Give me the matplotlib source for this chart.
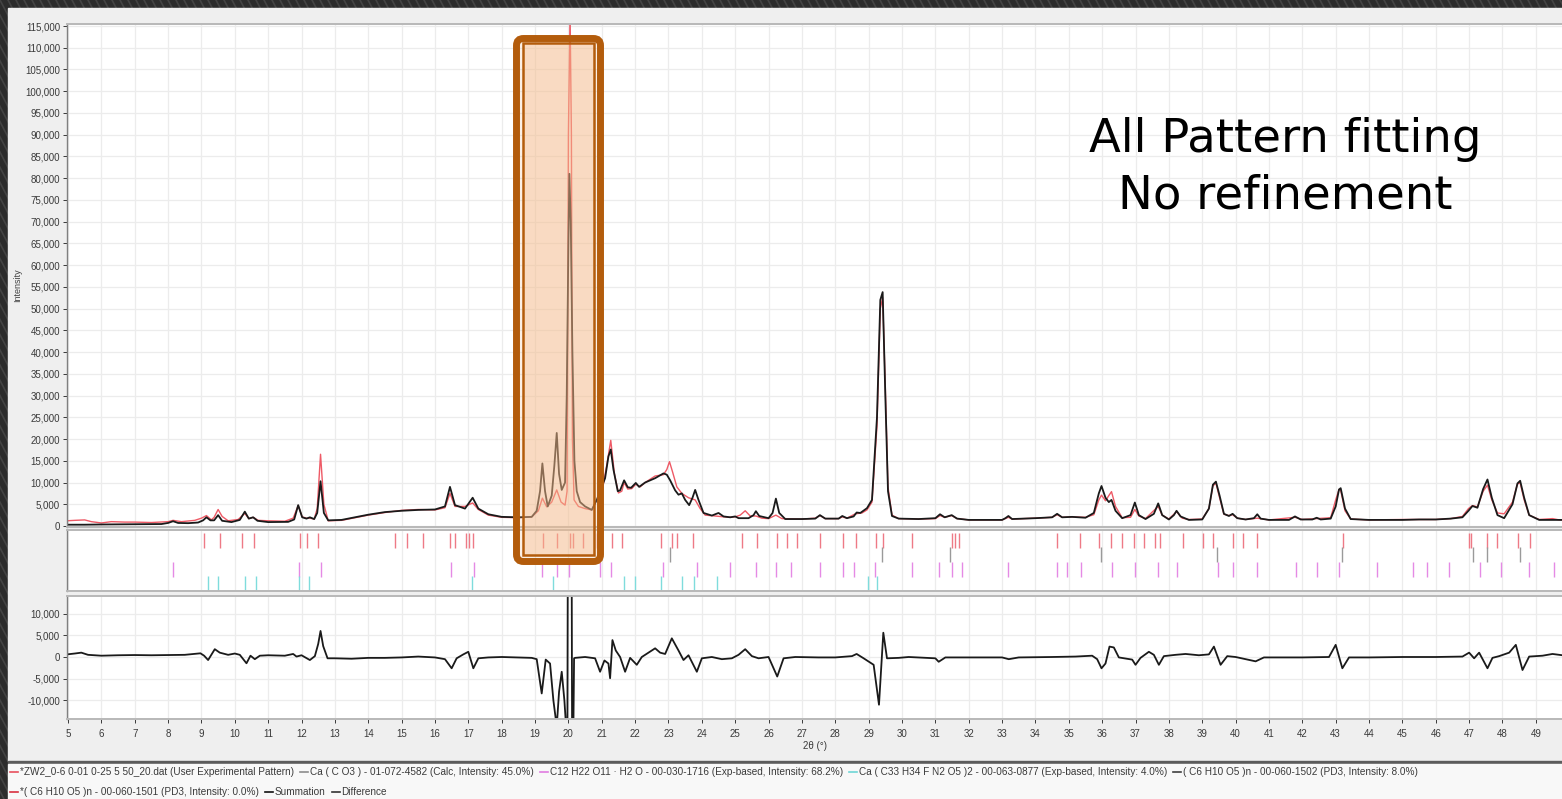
import matplotlib
matplotlib.use("Agg")
import matplotlib.pyplot as plt
from matplotlib.patches import FancyBboxPatch, Rectangle
from matplotlib.ticker import FuncFormatter, MultipleLocator

W, H = 1562, 799

# observed pattern (2theta, intensity)
OBS = [
    (4.97, 1200), (5.2, 1300), (5.5, 1400), (5.7, 1000), (6.0, 700), (6.3, 1000), (6.7, 900),
    (7.0, 900), (7.5, 800), (8.0, 1000), (8.15, 1300), (8.4, 1000), (8.8, 1300), (9.0, 1800),
    (9.15, 2400), (9.3, 1400), (9.38, 2000), (9.5, 3800), (9.62, 2200), (9.8, 1200), (10.1, 1500),
    (10.3, 2900), (10.42, 1700), (10.55, 2000), (10.7, 1300), (11.0, 1200), (11.5, 1100),
    (11.75, 1800), (11.9, 4700), (12.02, 2100), (12.15, 1800), (12.25, 1800), (12.38, 1600),
    (12.47, 4000), (12.57, 16500), (12.67, 5000), (12.8, 1200), (13.2, 1300), (13.6, 1900),
    (14.0, 2500), (14.5, 3100), (15.0, 3600), (15.5, 3800), (16.0, 3700), (16.3, 4200),
    (16.45, 7500), (16.6, 4500), (16.9, 4500), (17.13, 5300), (17.3, 3800), (17.6, 2500),
    (18.0, 2000), (18.5, 1900), (18.9, 2100), (19.1, 3500), (19.22, 6400), (19.35, 4400),
    (19.5, 5500), (19.65, 8300), (19.78, 5500), (19.9, 4800), (19.96, 8000), (20.0, 90000),
    (20.05, 118000), (20.09, 90000), (20.12, 20000), (20.17, 6000), (20.3, 4500), (20.5, 4000),
    (20.7, 3700), (20.85, 6000), (21.0, 7500), (21.15, 14000), (21.27, 19700), (21.38, 12000),
    (21.5, 7600), (21.6, 8000), (21.67, 10000), (21.78, 8500), (21.9, 8600), (22.02, 9600),
    (22.15, 9000), (22.3, 10000), (22.6, 11500), (22.85, 11800), (22.95, 13000), (23.03, 14800),
    (23.12, 12500), (23.25, 9000), (23.4, 7500), (23.6, 6500), (23.8, 6000), (23.95, 4000),
    (24.1, 2500), (24.4, 2300), (24.8, 2000), (25.0, 2100), (25.15, 2500), (25.3, 3500),
    (25.45, 2300), (25.62, 2300), (25.8, 1800), (26.0, 1700), (26.22, 2500), (26.4, 1700),
    (27.0, 1600), (27.4, 1800), (27.54, 2400), (27.7, 1700), (28.1, 1700), (28.21, 2100),
    (28.35, 1800), (28.6, 2800), (28.8, 3000), (28.95, 3700), (29.1, 5500), (29.25, 23000),
    (29.35, 50000), (29.42, 52500), (29.5, 32000), (29.58, 9000), (29.7, 2500), (29.9, 1700),
    (30.5, 1600), (31.0, 1700), (31.14, 2400), (31.28, 2000), (31.49, 2400), (31.65, 1700),
    (32.0, 1400), (33.0, 1400), (33.19, 2000), (33.3, 1600), (34.0, 1800), (34.5, 2000),
    (34.65, 2600), (34.8, 2000), (35.1, 2100), (35.5, 2000), (35.75, 2600), (35.9, 6000),
    (35.98, 7100), (36.1, 5800), (36.2, 7000), (36.28, 7900), (36.4, 4500), (36.6, 1900),
    (36.85, 2000), (36.98, 3800), (37.1, 2300), (37.3, 1700), (37.5, 3200), (37.68, 4500),
    (37.8, 2500), (38.0, 1600), (38.23, 3300), (38.4, 1800), (38.6, 1500), (39.0, 1600),
    (39.2, 4000), (39.32, 9200), (39.41, 9900), (39.52, 6500), (39.65, 2700), (39.8, 2400),
    (39.91, 2600), (40.05, 1800), (40.3, 1500), (40.65, 1800), (41.0, 1400), (41.78, 2000),
    (42.0, 1500), (42.43, 1700), (42.85, 1900), (43.0, 6000), (43.1, 8400), (43.15, 8200),
    (43.28, 3500), (43.45, 1600), (44.0, 1400), (45.0, 1500), (46.0, 1500), (46.45, 1700),
    (46.8, 2200), (46.98, 4000), (47.1, 4700), (47.25, 4400), (47.42, 8000), (47.55, 9400),
    (47.68, 6000), (47.85, 3000), (48.05, 2800), (48.3, 5500), (48.45, 9700), (48.53, 9900),
    (48.65, 6000), (48.8, 2500), (49.1, 1500), (49.5, 1700), (49.7, 1400), (50.0, 1500),
]

# summation (calculated) pattern
CALC = [
    (4.97, 300), (5.5, 300), (6.0, 350), (7.0, 400), (7.8, 450), (8.0, 700), (8.15, 1100),
    (8.3, 700), (8.6, 650), (8.9, 800), (9.05, 1300), (9.15, 2000), (9.27, 1300), (9.38, 1300),
    (9.5, 2500), (9.62, 1200), (9.9, 900), (10.15, 1400), (10.3, 3300), (10.42, 1700),
    (10.55, 2000), (10.68, 1200), (11.0, 900), (11.6, 950), (11.78, 1500), (11.9, 4800),
    (12.02, 2000), (12.15, 1700), (12.25, 2000), (12.38, 1600), (12.47, 3000), (12.57, 10300),
    (12.67, 3000), (12.8, 1300), (13.2, 1400), (13.6, 2000), (14.0, 2600), (14.5, 3200),
    (15.0, 3500), (15.5, 3700), (16.0, 3800), (16.3, 4500), (16.45, 9000), (16.6, 4800),
    (16.9, 4000), (17.13, 6500), (17.3, 4000), (17.6, 2700), (18.0, 2100), (18.5, 2000),
    (18.9, 2100), (19.05, 3500), (19.15, 8000), (19.22, 14400), (19.3, 8000), (19.38, 4500),
    (19.5, 7000), (19.58, 14000), (19.65, 21400), (19.72, 12000), (19.8, 8300), (19.9, 10000),
    (19.95, 30000), (20.0, 65000), (20.03, 81000), (20.07, 70000), (20.12, 40000),
    (20.18, 15000), (20.25, 8000), (20.35, 5500), (20.5, 4500), (20.7, 3700), (20.85, 6000),
    (20.95, 8000), (21.1, 11000), (21.2, 16000), (21.27, 17600), (21.35, 13000), (21.48, 8000),
    (21.55, 8200), (21.67, 10500), (21.78, 8900), (21.88, 8800), (22.02, 9900), (22.12, 9000),
    (22.3, 10000), (22.6, 11000), (22.85, 12100), (22.95, 11800), (23.05, 10500), (23.2, 8200),
    (23.3, 7200), (23.4, 7500), (23.5, 6000), (23.62, 4800), (23.72, 6500), (23.8, 8300),
    (23.9, 6000), (24.05, 3000), (24.3, 2400), (24.5, 3000), (24.65, 2200), (24.85, 2000),
    (25.0, 2200), (25.1, 1800), (25.4, 1800), (25.55, 2500), (25.62, 3400), (25.72, 2300),
    (26.0, 1800), (26.12, 3000), (26.22, 6300), (26.32, 3000), (26.5, 1600), (27.0, 1600),
    (27.4, 1700), (27.54, 2500), (27.7, 1700), (28.1, 1700), (28.21, 2300), (28.35, 1800),
    (28.55, 2200), (28.64, 3100), (28.75, 3000), (28.95, 4100), (29.1, 6000), (29.25, 25000),
    (29.35, 52000), (29.42, 53800), (29.5, 30000), (29.58, 8000), (29.7, 2300), (29.9, 1700),
    (30.5, 1600), (31.0, 1800), (31.14, 2700), (31.28, 2000), (31.49, 2500), (31.65, 1700),
    (32.0, 1400), (33.0, 1400), (33.1, 1800), (33.19, 2300), (33.3, 1600), (34.0, 1800),
    (34.5, 2000), (34.65, 2800), (34.8, 2000), (35.1, 2100), (35.5, 1900), (35.75, 3000),
    (35.9, 7500), (35.98, 9200), (36.1, 6500), (36.2, 5500), (36.28, 6000), (36.4, 3500),
    (36.6, 1800), (36.85, 2500), (36.98, 5400), (37.1, 2500), (37.3, 1600), (37.55, 2800),
    (37.68, 5200), (37.8, 2500), (38.0, 1500), (38.15, 2500), (38.23, 3500), (38.35, 2200),
    (38.6, 1400), (39.0, 1500), (39.2, 4000), (39.32, 9500), (39.41, 10200), (39.52, 7000),
    (39.65, 2800), (39.8, 2300), (39.91, 2800), (40.05, 1800), (40.3, 1500), (40.55, 1800),
    (40.65, 2700), (40.75, 1700), (41.0, 1400), (41.6, 1400), (41.78, 2200), (41.95, 1500),
    (42.3, 1500), (42.43, 1900), (42.55, 1500), (42.85, 1700), (43.0, 4500), (43.1, 8400),
    (43.15, 8700), (43.28, 4000), (43.45, 1600), (44.0, 1400), (45.0, 1400), (45.5, 1500),
    (46.0, 1500), (46.45, 1700), (46.8, 2000), (46.98, 3500), (47.1, 4600), (47.25, 4200),
    (47.42, 8500), (47.55, 10700), (47.68, 6500), (47.85, 2500), (48.05, 1800), (48.3, 5000),
    (48.45, 9800), (48.53, 10400), (48.65, 6500), (48.8, 2500), (49.1, 1400), (49.6, 1400),
    (50.0, 1400),
]

# difference curve
DIFF = [
    (4.97, 600), (5.2, 800), (5.4, 1000), (5.6, 500), (6.0, 300), (6.5, 400), (7.0, 450),
    (7.5, 400), (8.0, 450), (8.5, 500), (8.97, 850), (9.08, 300), (9.2, -700), (9.32, 800),
    (9.4, 1800), (9.55, 1000), (9.8, 500), (10.0, 800), (10.15, 500), (10.35, -1450),
    (10.47, 300), (10.6, -500), (10.75, 300), (11.0, 400), (11.5, 300), (11.75, 700),
    (11.85, 100), (12.0, 400), (12.25, -700), (12.4, 200), (12.5, 3000), (12.57, 6000),
    (12.65, 2500), (12.78, -300), (13.0, -300), (13.5, -400), (14.0, -200), (14.5, -200),
    (15.0, -100), (15.5, 100), (16.0, -100), (16.3, -500), (16.5, -2600), (16.65, -300),
    (16.85, 600), (17.0, 1200), (17.15, -2600), (17.3, -300), (17.6, -100), (18.0, 0),
    (18.5, -100), (18.9, -200), (19.05, -500), (19.2, -8400), (19.32, -600), (19.45, -1500),
    (19.55, -10000), (19.65, -16000), (19.72, -8000), (19.8, -3400), (19.88, -10000),
    (19.93, -16000), (19.97, -16000), (19.98, 16000), (20.1, 16000), (20.11, -16000),
    (20.15, -16000), (20.17, -300), (20.2, -200), (20.5, 0), (20.8, -300), (20.95, -3400),
    (21.08, -800), (21.2, -1500), (21.25, -4900), (21.32, 3900), (21.42, 1500), (21.55, 0),
    (21.7, -3400), (21.85, -200), (22.05, -1800), (22.2, 0), (22.5, 1500), (22.6, 2000),
    (22.75, 1000), (22.9, 700), (23.1, 4300), (23.3, 1500), (23.45, -700), (23.6, 400),
    (23.85, -3400), (24.0, -300), (24.3, 0), (24.6, -500), (24.9, -300), (25.1, 500),
    (25.3, 1800), (25.5, 200), (25.7, -300), (26.0, 0), (26.26, -4500), (26.45, -300),
    (26.8, 0), (27.5, -100), (28.0, -100), (28.5, 200), (28.64, 700), (28.85, -300),
    (29.15, -1800), (29.31, -11000), (29.44, 5600), (29.55, -300), (29.9, -200), (30.2, 0),
    (31.0, -300), (31.1, -1100), (31.3, -100), (32.0, -100), (33.0, -100), (33.2, -500),
    (33.5, -100), (34.5, 0), (35.2, 100), (35.7, 300), (35.85, -500), (35.98, -2600),
    (36.1, -1500), (36.22, 2400), (36.35, 2200), (36.5, -100), (36.9, -600), (37.0, -1800),
    (37.15, -200), (37.4, 1200), (37.55, 500), (37.7, -1800), (37.85, 200), (38.2, 500),
    (38.5, 700), (38.9, 400), (39.2, 600), (39.35, 2400), (39.55, -1800), (39.75, 200),
    (40.0, 0), (40.6, -1000), (40.85, -100), (41.5, -100), (42.0, -100), (42.8, 0),
    (43.0, 2800), (43.2, -2600), (43.4, -100), (44.0, -100), (45.0, 0), (46.0, 0), (46.8, 100),
    (47.0, 1000), (47.15, -300), (47.3, 1000), (47.55, -2600), (47.7, -200), (47.9, 200),
    (48.2, 1000), (48.4, 2800), (48.6, -3000), (48.8, 100), (49.2, 300), (49.5, 700),
    (50.0, 200),
]

# phase reflection markers (2theta)
TICKS_RED = [9.08, 9.56, 10.23, 10.58, 11.95, 12.17, 12.49, 14.8, 15.17, 15.63, 16.45, 16.6,
             16.93, 17.03, 17.15, 19.25, 19.67, 20.05, 20.15, 20.45, 20.85, 21.3, 21.6, 22.77,
             23.1, 23.25, 23.74, 25.19, 25.64, 26.26, 26.54, 26.84, 27.54, 28.22, 28.62, 29.22,
             29.42, 30.29, 31.49, 31.59, 31.72, 34.66, 35.34, 35.92, 36.26, 36.59, 36.94, 37.25,
             37.58, 37.73, 38.43, 39.03, 39.33, 39.93, 40.23, 40.65, 43.23, 47.0, 47.07, 47.53,
             47.85, 48.48, 48.83]
TICKS_GREY = [23.05, 29.39, 31.44, 35.98, 39.43, 43.18, 47.13, 47.53, 48.53]
TICKS_MAGENTA = [8.16, 11.92, 12.58, 16.47, 17.17, 19.2, 19.65, 20.03, 20.95, 21.28, 22.85,
                 23.85, 24.84, 25.62, 26.22, 26.66, 27.54, 28.22, 28.57, 29.19, 30.29, 31.12,
                 31.49, 31.81, 33.19, 34.66, 34.96, 35.37, 36.29, 36.97, 37.67, 38.25, 39.48,
                 39.93, 40.65, 41.8, 42.43, 43.1, 44.23, 45.31, 45.75, 46.39, 47.33, 47.95,
                 48.78, 49.53]
TICKS_CYAN = [9.21, 9.51, 10.31, 10.63, 11.92, 12.23, 17.1, 19.55, 21.67, 22.0, 22.77, 23.4,
              23.77, 24.46, 28.97, 29.26]

MAIN_YTICKS = list(range(0, 115001, 5000))
DIFF_YTICKS = [-10000, -5000, 0, 5000, 10000]
XTICKS = list(range(5, 50))

LEGEND_ROW1 = [
    ("*ZW2_0-6 0-01 0-25 5 50_20.dat (User Experimental Pattern)", "#e8505e"),
    ("Ca ( C O3 ) - 01-072-4582 (Calc, Intensity: 45.0%)", "#8c8c8c"),
    ("C12 H22 O11 · H2 O - 00-030-1716 (Exp-based, Intensity: 68.2%)", "#e07ce0"),
    ("Ca ( C33 H34 F N2 O5 )2 - 00-063-0877 (Exp-based, Intensity: 4.0%)", "#6fd6d6"),
    ("( C6 H10 O5 )n - 00-060-1502 (PD3, Intensity: 8.0%)", "#404040"),
]
LEGEND_ROW2 = [
    ("*( C6 H10 O5 )n - 00-060-1501 (PD3, Intensity: 0.0%)", "#d83040"),
    ("Summation", "#111111"),
    ("Difference", "#333333"),
]

RED = "#ee5a66"
BLACK = "#1a1a1a"
GRID = "#ececec"
FONT = "Liberation Sans"
XMIN, XMAX = 4.97, 50.0


def px_rect(left, top, right, bottom):
    return [left / W, 1 - bottom / H, (right - left) / W, (bottom - top) / H]


def pixel_axes(fig, zorder):
    ax = fig.add_axes([0, 0, 1, 1], zorder=zorder)
    ax.set_xlim(0, W)
    ax.set_ylim(H, 0)
    ax.axis("off")
    ax.patch.set_alpha(0)
    return ax


def style_panel(ax):
    ax.set_facecolor("white")
    for side in ["top", "bottom", "right"]:
        ax.spines[side].set_color("#b8b8b8")
        ax.spines[side].set_linewidth(1.4)
    ax.spines["left"].set_color("#808080")
    ax.spines["left"].set_linewidth(1.0)
    ax.set_xlim(XMIN, XMAX)
    ax.xaxis.set_major_locator(MultipleLocator(1))
    ax.grid(True, color=GRID, linewidth=0.9)
    ax.set_axisbelow(True)
    ax.tick_params(axis="both", labelsize=7, colors="#3a3a3a", length=3, width=0.7)
    for lab in ax.get_xticklabels() + ax.get_yticklabels():
        lab.set_fontfamily(FONT)


fig = plt.figure(figsize=(W / 100, H / 100), dpi=100)

# window background with the dark striped frame
bg = pixel_axes(fig, -5)
bg.add_patch(Rectangle((0, 0), W, H, color="#2c2c2c", zorder=0))
for k in range(-440, W + 20, 8):
    bg.plot([k, k + 420], [0, H], color="#434343", lw=1.2, zorder=1)
bg.add_patch(Rectangle((8, 8), W - 8, 753, color="#efefef", zorder=2))
bg.add_patch(Rectangle((8, 761), W - 8, 2.5, color="#5c5c5c", zorder=2))
bg.add_patch(Rectangle((8, 763.5), W - 8, H - 763.5, color="#f8f8f8", zorder=2))

fmt = FuncFormatter(lambda v, _: f"{v:,.0f}")
right_px = 67 + (XMAX - XMIN) * 33.36

# main pattern panel
ax = fig.add_axes(px_rect(67, 24, right_px, 527))
ax.plot([p[0] for p in OBS], [p[1] for p in OBS], color=RED, lw=1.0)
ax.plot([p[0] for p in CALC], [p[1] for p in CALC], color=BLACK, lw=1.3)
ax.set_ylim(-230, 115460)
ax.set_yticks(MAIN_YTICKS)
ax.yaxis.set_major_formatter(fmt)
style_panel(ax)
ax.tick_params(axis="x", bottom=False, labelbottom=False)
ax.tick_params(axis="y", pad=2)

# reflection marker panel
axt = fig.add_axes(px_rect(67, 530, right_px, 591))
axt.set_ylim(591, 530)
axt.vlines(TICKS_RED, 533, 548, color="#ee7a86", lw=1.0)
axt.vlines(TICKS_GREY, 547, 562, color="#9a9a9a", lw=1.0)
axt.vlines(TICKS_MAGENTA, 562, 577, color="#e58ae5", lw=1.0)
axt.vlines(TICKS_CYAN, 576, 591, color="#7fdcdc", lw=1.0)
style_panel(axt)
axt.grid(True, axis="x", color=GRID, linewidth=0.9)
axt.grid(False, axis="y")
axt.tick_params(axis="both", left=False, bottom=False, labelleft=False, labelbottom=False)

# difference panel
axd = fig.add_axes(px_rect(67, 596, right_px, 719))
axd.plot([p[0] for p in DIFF], [p[1] for p in DIFF], color=BLACK, lw=1.3)
axd.set_ylim(-14285, 14054)
axd.set_yticks(DIFF_YTICKS)
axd.yaxis.set_major_formatter(fmt)
style_panel(axd)
axd.set_xticks(XTICKS)
axd.xaxis.set_minor_locator(MultipleLocator(1))
axd.grid(True, which="minor", axis="x", color=GRID, linewidth=0.9)
axd.tick_params(axis="x", which="minor", length=3, width=0.7, color="#3a3a3a")
axd.tick_params(axis="x", pad=4)
axd.tick_params(axis="y", pad=2)
for lab in axd.get_xticklabels():
    lab.set_fontfamily(FONT)

# overlay: labels, highlight box, annotation, legend
ov = pixel_axes(fig, 10)
ov.text(18, 285, "Intensity", rotation=90, ha="center", va="center",
        fontsize=6.5, color="#444444", family=FONT)
ov.text(815, 746, "2θ (°)", ha="center", va="center", fontsize=7,
        color="#3a3a3a", family=FONT)

peach = (0.96, 0.73, 0.54)
ov.add_patch(FancyBboxPatch((516.5, 38.5), 84, 523,
                            boxstyle="round,pad=0,rounding_size=7",
                            fc=peach + (0.22,), ec="#b35c0c", lw=5.0))
ov.add_patch(FancyBboxPatch((522.8, 43.2), 71.4, 511.6, boxstyle="square,pad=0",
                            fc=peach + (0.38,), ec="#b35c0c", lw=1.8))

ov.text(1285, 140, "All Pattern fitting", ha="center", va="center",
        fontsize=33.5, color="black", family="DejaVu Sans")
ov.text(1285, 196, "No refinement", ha="center", va="center",
        fontsize=33.5, color="black", family="DejaVu Sans")

renderer = fig.canvas.get_renderer()


def legend_row(entries, y):
    x = 10
    for label, color in entries:
        ov.plot([x, x + 8], [y, y], color=color, lw=1.2)
        t = ov.text(x + 10, y, label, ha="left", va="center", fontsize=7.2,
                    color="#3a3a3a", family=FONT)
        bb = t.get_window_extent(renderer)
        x = x + 10 + bb.width + 6


legend_row(LEGEND_ROW1, 772)
legend_row(LEGEND_ROW2, 792)

fig.savefig("out.png", dpi=100)
